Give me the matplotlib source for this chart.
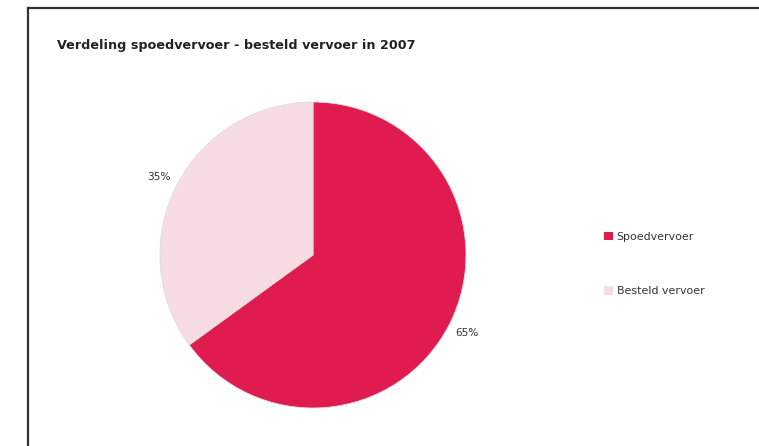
import matplotlib.pyplot as plt
from matplotlib.lines import Line2D

# Verdeling van het vervoer in 2007 (procenten)
categorieen = ['Spoedvervoer', 'Besteld vervoer']
aandelen = [65, 35]
kleuren = ['#e01b50', '#f8dce4']

W, H = 759, 446
fig = plt.figure(figsize=(W / 100, H / 100), dpi=100)

# kader links en boven
fig.add_artist(Line2D([28 / W, 28 / W], [0, 1 - 8 / H], color='#333333', lw=1.6))
fig.add_artist(Line2D([28 / W, 1], [1 - 8 / H, 1 - 8 / H], color='#333333', lw=1.6))

fig.text(57 / W, 1 - 46 / H, 'Verdeling spoedvervoer - besteld vervoer in 2007',
         fontsize=9.2, fontweight='bold', color='#222222', va='center', ha='left')

# taartdiagram: middelpunt (313, 255), straal 153 px
cx, cy, r = 313, H - 255, 153
ax = fig.add_axes([(cx - r) / W, (cy - r) / H, 2 * r / W, 2 * r / H])
wedges, teksten = ax.pie(aandelen, colors=kleuren, startangle=90, counterclock=False,
                         labels=[f'{a}%' for a in aandelen], labeldistance=1.13,
                         wedgeprops=dict(edgecolor='#dddddd', linewidth=0.6),
                         textprops=dict(fontsize=7.6, color='#333333'))
for t in teksten:
    t.set_horizontalalignment('center')
ax.set_xlim(-1, 1)
ax.set_ylim(-1, 1)
ax.set_aspect('equal')
ax.axis('off')

leg = fig.legend(wedges, categorieen, loc='upper left',
                 bbox_to_anchor=(604 / W, 1 - 232 / H), frameon=False,
                 fontsize=7.9, labelspacing=4.05, handlelength=0.8, handleheight=0.8,
                 handletextpad=0.36, borderpad=0, borderaxespad=0)
for t in leg.get_texts():
    t.set_color('#333333')
for h in leg.legend_handles:
    h.set_edgecolor('none')

fig.savefig('out.png', dpi=100)
